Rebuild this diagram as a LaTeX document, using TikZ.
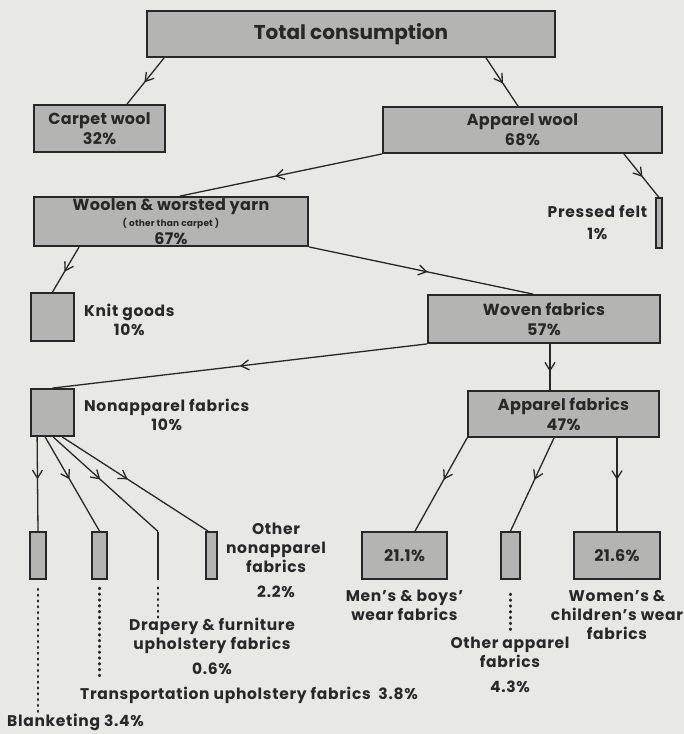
\documentclass[tikz,border=0pt]{standalone}
\usepackage{fontspec}
\setmainfont{Poppins}
\usetikzlibrary{positioning,calc,arrows.meta,decorations.markings}

\definecolor{paper}{RGB}{232,232,229}
\definecolor{boxfill}{RGB}{180,180,178}
\definecolor{ink}{RGB}{40,40,40}

\newcommand\topfont{\fontsize{20}{24}\selectfont\bfseries}
\newcommand\boxfont{\fontsize{16}{20}\selectfont\bfseries\addfontfeature{LetterSpace=2}}
\newcommand\smallfont{\fontsize{9}{11}\selectfont\bfseries}
\newcommand\labfont{\fontsize{15.5}{19}\selectfont\bfseries\addfontfeature{LetterSpace=4.5}}

\tikzset{
	box/.style={draw=ink, fill=boxfill, line width=1.8pt, inner sep=0pt, align=center, text=ink, font=\boxfont},
	bar/.style={box, minimum height=47},
	lab/.style={align=center, inner sep=0pt, text=ink, font=\labfont},
	link/.style={draw=ink, line width=1.3pt, postaction={decorate},
		decoration={markings, mark=at position #1 with {\arrow{Straight Barb[length=8pt,width=10pt,line width=1.3pt]}}}},
	link/.default=0.53,
	dotline/.style={draw=ink, line width=2.4pt, line cap=round, dash pattern=on 1pt off 4.8pt},
}

\begin{document}
\begin{tikzpicture}[x=1pt,y=-1pt]
	\fill[paper] (0,0) rectangle (684,734);
	\useasboundingbox (0,0) rectangle (684,734);

	% top levels
	\node[box, minimum width=408, minimum height=46, font=\topfont] (tot) at (351,34) {Total consumption};
	\node[box, minimum width=131, minimum height=47] (cw) at (99.5,128.5) {Carpet wool\\32\%};
	\node[box, minimum width=279, minimum height=46] (aw) at (522.5,130) {Apparel wool\\68\%};
	\node[box, minimum width=274, minimum height=49] (wy) at (171,221.5)
		{Woolen \& worsted yarn\\[-4pt]{\smallfont( other than carpet )}\\[-2pt]67\%};
	\node[box, minimum width=6, minimum height=50, line width=1.2pt] (pf) at (659,223) {};
	\node[lab, left=8pt of pf] (pfl) {Pressed felt\\[3pt]1\%};

	% middle levels
	\node[box, minimum width=43, minimum height=48] (kg) at (52.5,317) {};
	\node[lab, right=9pt of kg, yshift=-3pt] (kgl) {Knit goods\\10\%};
	\node[box, minimum width=232, minimum height=48] (wf) at (544,319) {Woven fabrics\\57\%};
	\node[box, minimum width=43, minimum height=47] (na) at (52.5,412.5) {};
	\node[lab, right=9pt of na, yshift=-2.5pt] (nal) {Nonapparel fabrics\\10\%};
	\node[box, minimum width=191, minimum height=46] (af) at (563.5,414) {Apparel fabrics\\47\%};

	% bottom level
	\node[bar, minimum width=16] (bl) at (38,555.5) {};
	\node[bar, minimum width=15] (tr) at (99.5,555.5) {};
	\node[bar, minimum width=1.5, line width=1pt, fill=ink] (dr) at (158,555.5) {};
	\node[bar, minimum width=11] (ot) at (211.5,555.5) {};
	\node[bar, minimum width=85] (mb) at (404.5,555.5) {21.1\%};
	\node[bar, minimum width=19] (oa) at (510.5,555.5) {};
	\node[bar, minimum width=86] (wc) at (617,555.5) {21.6\%};

	\node[lab, right=8pt of ot, yshift=-5pt] (otl) {Other\\nonapparel\\fabrics\\[6pt]2.2\%};
	\node[lab] (drl) at (212,646) {Drapery \& furniture\\upholstery fabrics\\[6pt]0.6\%};
	\node[lab] (trl) at (249,695) {Transportation upholstery fabrics\enspace 3.8\%};
	\node[lab] (bll) at (75.5,722) {Blanketing 3.4\%};
	\node[lab, below=10pt of mb] (mbl) {Men’s \& boys’\\wear fabrics};
	\node[lab, below=10pt of wc] (wcl) {Women’s \&\\children’s wear\\fabrics};
	\node[lab] (oal) at (510,665) {Other apparel\\fabrics\\[6pt]4.3\%};

	% flows
	\draw[link] ($(tot.south west)+(18,0)$) -- ($(cw.north)+(27.5,0)$);
	\draw[link] ($(tot.south)+(135,0)$) -- ($(aw.north)+(-4.5,0)$);
	\draw[link] (aw.south west) -- ($(wy.north)+(9,0)$);
	\draw[link] ($(aw.south east)+(-39,0)$) -- (pf.north);
	\draw[link=0.55] ($(wy.south west)+(46,0)$) -- (kg.north);
	\draw[link] (wy.south east) -- ($(wf.north)+(-11,0)$);
	\draw[link=0.5] (wf.south west) -- (na.north);
	\draw[link=0.6] ($(wf.south)+(6,0)$) -- ($(af.north)+(-13.5,0)$);

	\draw[link=0.45] ($(na.south west)+(7,0)$) -- (bl.north);
	\draw[link=0.45] ($(na.south west)+(15,0)$) -- (tr.north);
	\draw[link=0.45] ($(na.south west)+(23,0)$) -- (dr.north);
	\draw[link=0.45] ($(na.south west)+(32,0)$) -- ($(ot.north)+(-3.5,0)$);

	\draw[link=0.45] (af.south west) -- ($(mb.north)+(10.5,0)$);
	\draw[link=0.45] ($(af.south)+(-9.5,0)$) -- (oa.north);
	\draw[link=0.45] (wc.north |- af.south) -- (wc.north);

	% dotted leaders
	\draw[dotline] ($(bl.south)+(0,9)$) -- ($(bl.south)+(0,132)$);
	\draw[dotline] ($(tr.south)+(0,8)$) -- ($(tr.south)+(0,98)$);
	\draw[dotline] ($(dr.south)+(0,8)$) -- ($(dr.south)+(0,38)$);
	\draw[dotline] ($(oa.south)+(0,14)$) -- ($(oa.south)+(0,53)$);
\end{tikzpicture}
\end{document}
